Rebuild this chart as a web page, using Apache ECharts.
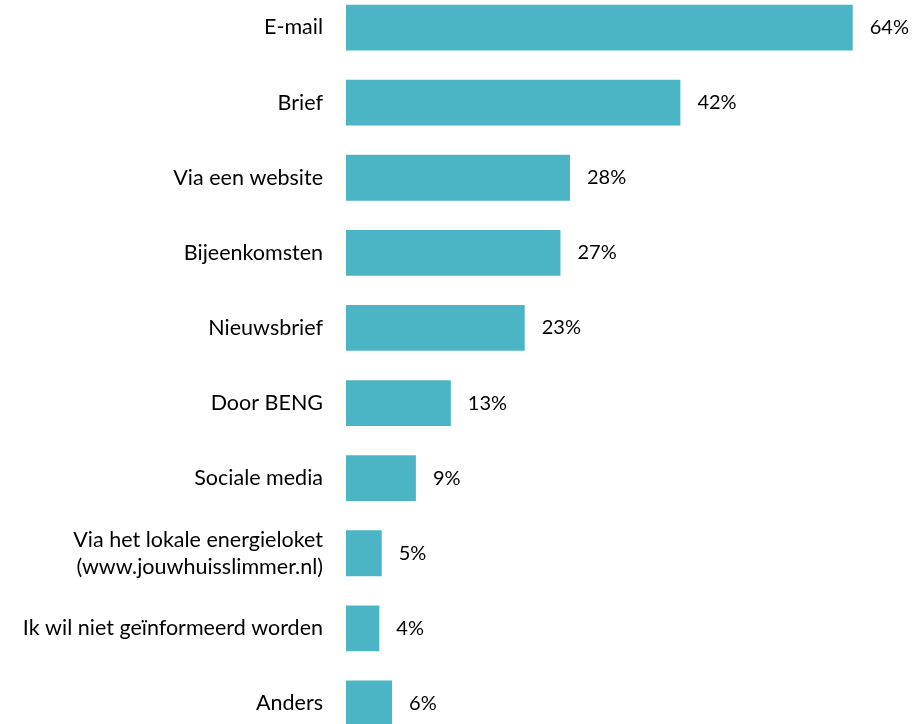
<!DOCTYPE html>
<html>
<head>
<meta charset="utf-8">
<script src="https://cdn.jsdelivr.net/npm/echarts@6/dist/echarts.min.js"></script>
<style>
  html, body { margin: 0; padding: 0; background: #fff; overflow: hidden; }
  /* chart is a bit taller than the window so the last bar is cut off like the source */
  #chart { width: 914px; height: 751px; margin-top: -10px; }
</style>
</head>
<body>
<div id="chart"></div>
<script>
// categories top to bottom
const categories = [
  'E-mail',
  'Brief',
  'Via een website',
  'Bijeenkomsten',
  'Nieuwsbrief',
  'Door BENG',
  'Sociale media',
  'Via het lokale energieloket\n(www.jouwhuisslimmer.nl)',
  'Ik wil niet geïnformeerd worden',
  'Anders'
]
// percentages
const values = [63.8, 42.1, 28.2, 27.0, 22.5, 13.2, 8.8, 4.5, 4.2, 5.8]

const chart = echarts.init(document.getElementById('chart'))

const option = {
  backgroundColor: '#fff',
  animation: false,
  grid: {
    left: 346,
    right: 12,
    top: 0,
    bottom: 0,
    containLabel: false
  },
  xAxis: {
    type: 'value',
    min: 0,
    max: 70,
    show: false
  },
  yAxis: {
    type: 'category',
    inverse: true,
    data: categories,
    axisLine: { show: false },
    axisTick: { show: false },
    axisLabel: {
      color: '#000',
      fontSize: 21.5,
      fontFamily: 'Lato',
      margin: 23,
      lineHeight: 27,
      align: 'right'
    }
  },
  series: [
    {
      type: 'bar',
      data: values,
      barCategoryGap: '39%',
      itemStyle: { color: '#4BB5C5' },
      label: {
        show: true,
        position: 'right',
        distance: 17,
        color: '#000',
        fontSize: 20,
        fontFamily: 'Lato',
        formatter: (p) => Math.round(p.value) + '%'
      }
    }
  ]
}

chart.setOption(option)
</script>
</body>
</html>
